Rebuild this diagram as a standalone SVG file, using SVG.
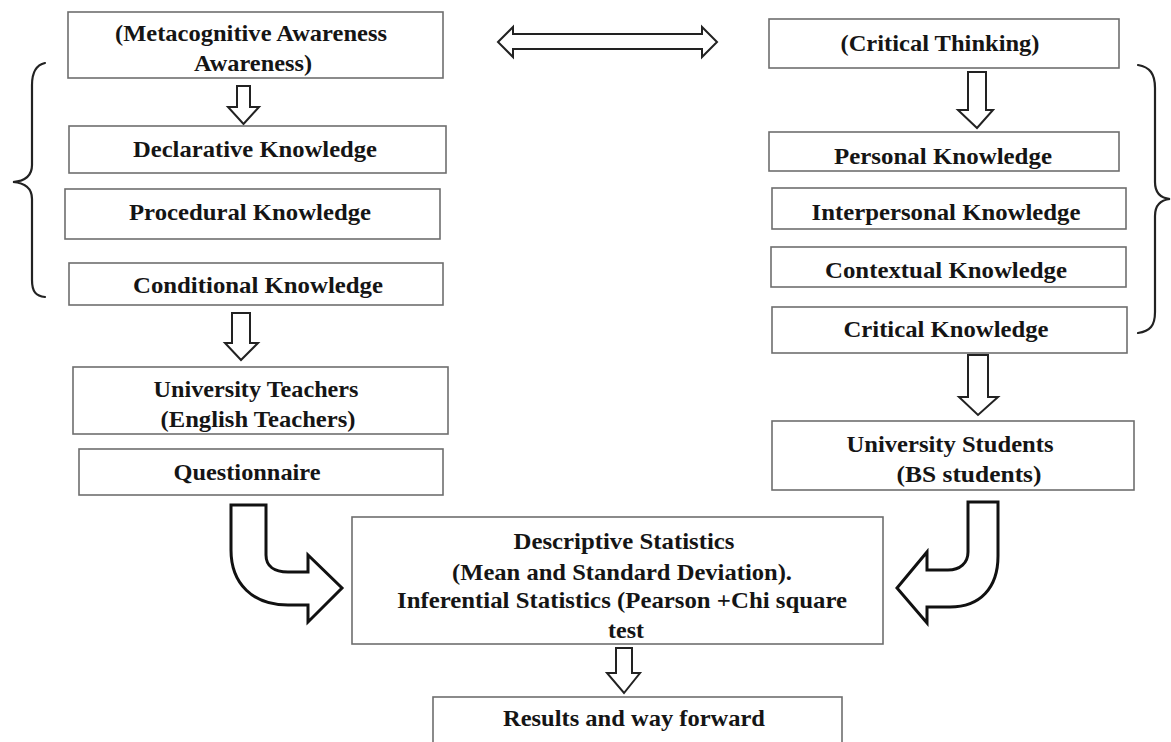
<svg xmlns="http://www.w3.org/2000/svg" width="1171" height="742" viewBox="0 0 1171 742">
<style>
  .box{fill:#fff;stroke:#6e6e6e;stroke-width:1.6}
  .t{font-family:"Liberation Serif","Times New Roman",serif;font-weight:bold;font-size:23px;fill:#151515;text-anchor:middle}
  .arr{fill:#fff;stroke:#222;stroke-width:2;stroke-linejoin:miter}
  .curve{fill:#fff;stroke:#111;stroke-width:3;stroke-linejoin:miter}
  .brace{fill:none;stroke:#222;stroke-width:2.2;stroke-linecap:round}
</style>
<rect width="1171" height="742" fill="#fff"/>
<g id="connectors">
  <path class="arr" d="M498,42 L513,27 L513,34 L702,34 L702,27 L717,42 L702,57 L702,49 L513,49 L513,57 Z" stroke="#444"/>
  <path class="arr" d="M237,86 L250,86 L250,107 L259,107 L243.5,124 L228,107 L237,107 Z"/>
  <path class="arr" d="M232,313 L250,313 L250,343 L258,343 L241,360 L225,343 L232,343 Z"/>
  <path class="arr" d="M968,72 L986,72 L986,110 L993,110 L977,128 L958,110 L968,110 Z"/>
  <path class="arr" d="M968,355 L988,355 L988,397 L998,397 L978,415 L959,397 L968,397 Z"/>
  <path class="arr" d="M616,648 L632,648 L632,673 L640,673 L624,693 L607,673 L616,673 Z"/>
  <path class="curve" d="M231,505 L266,505 L266,555 C266,566 274,572 288,572 L308,572 L308,555 L342,588 L308,622 L308,605 L288,605 C253,605 231,584 231,550 Z"/>
  <path class="curve" d="M998,502 L968,502 L968,552 C968,563 960,570 948,570 L927,570 L927,552 L897,588 L927,623 L927,607 L950,607 C980,607 998,588 998,556 Z"/>
  <path class="brace" d="M45,63 C36,65 32,72 32,85 L32,165 C32,175 26,181 13,182 C26,183 32,189 32,199 L32,280 C32,292 36,296 45,297"/>
  <path class="brace" d="M1138,65 C1150,67 1155,74 1155,88 L1155,182 C1155,192 1160,198 1170,199 C1160,200 1155,206 1155,216 L1155,312 C1155,326 1150,331 1138,333"/>
</g>
<g id="meta">
  <rect class="box" x="68" y="12" width="375" height="66"/>
  <text class="t" x="251" y="41" textLength="272" lengthAdjust="spacingAndGlyphs">(Metacognitive Awareness</text>
  <text class="t" x="253" y="71" textLength="118" lengthAdjust="spacingAndGlyphs">Awareness)</text>
</g>
<g id="declarative">
  <rect class="box" x="69" y="126" width="377" height="47"/>
  <text class="t" x="255" y="157" textLength="244" lengthAdjust="spacingAndGlyphs">Declarative Knowledge</text>
</g>
<g id="procedural">
  <rect class="box" x="65" y="189" width="375" height="50"/>
  <text class="t" x="250" y="220" textLength="242" lengthAdjust="spacingAndGlyphs">Procedural Knowledge</text>
</g>
<g id="conditional">
  <rect class="box" x="69" y="263" width="374" height="42"/>
  <text class="t" x="258" y="293" textLength="250" lengthAdjust="spacingAndGlyphs">Conditional Knowledge</text>
</g>
<g id="teachers">
  <rect class="box" x="73" y="367" width="375" height="67"/>
  <text class="t" x="256" y="397" textLength="205" lengthAdjust="spacingAndGlyphs">University Teachers</text>
  <text class="t" x="258" y="427" textLength="195" lengthAdjust="spacingAndGlyphs">(English Teachers)</text>
</g>
<g id="questionnaire">
  <rect class="box" x="79" y="449" width="364" height="46"/>
  <text class="t" x="247" y="480" textLength="147" lengthAdjust="spacingAndGlyphs">Questionnaire</text>
</g>
<g id="critical-thinking">
  <rect class="box" x="769" y="19" width="350" height="49"/>
  <text class="t" x="940" y="51" textLength="199" lengthAdjust="spacingAndGlyphs">(Critical Thinking)</text>
</g>
<g id="personal">
  <rect class="box" x="769" y="132" width="350" height="39"/>
  <text class="t" x="943" y="164" textLength="218" lengthAdjust="spacingAndGlyphs">Personal Knowledge</text>
</g>
<g id="interpersonal">
  <rect class="box" x="772" y="188" width="354" height="41"/>
  <text class="t" x="946" y="220" textLength="269" lengthAdjust="spacingAndGlyphs">Interpersonal Knowledge</text>
</g>
<g id="contextual">
  <rect class="box" x="771" y="247" width="355" height="40"/>
  <text class="t" x="946" y="278" textLength="242" lengthAdjust="spacingAndGlyphs">Contextual Knowledge</text>
</g>
<g id="critical-knowledge">
  <rect class="box" x="772" y="307" width="355" height="46"/>
  <text class="t" x="946" y="337" textLength="205" lengthAdjust="spacingAndGlyphs">Critical Knowledge</text>
</g>
<g id="students">
  <rect class="box" x="772" y="421" width="362" height="69"/>
  <text class="t" x="950" y="452" textLength="207" lengthAdjust="spacingAndGlyphs">University Students</text>
  <text class="t" x="969" y="482" textLength="145" lengthAdjust="spacingAndGlyphs">(BS students)</text>
</g>
<g id="statistics">
  <rect class="box" x="352" y="517" width="531" height="127" stroke="#555"/>
  <text class="t" x="624" y="549" textLength="221" lengthAdjust="spacingAndGlyphs">Descriptive Statistics</text>
  <text class="t" x="622" y="580" textLength="340" lengthAdjust="spacingAndGlyphs">(Mean and Standard Deviation).</text>
  <text class="t" x="622" y="608" textLength="450" lengthAdjust="spacingAndGlyphs">Inferential Statistics (Pearson +Chi square</text>
  <text class="t" x="626" y="638" textLength="36" lengthAdjust="spacingAndGlyphs">test</text>
</g>
<g id="results">
  <rect class="box" x="433" y="697" width="409" height="60"/>
  <text class="t" x="634" y="726" textLength="262" lengthAdjust="spacingAndGlyphs">Results and way forward</text>
</g>
</svg>
